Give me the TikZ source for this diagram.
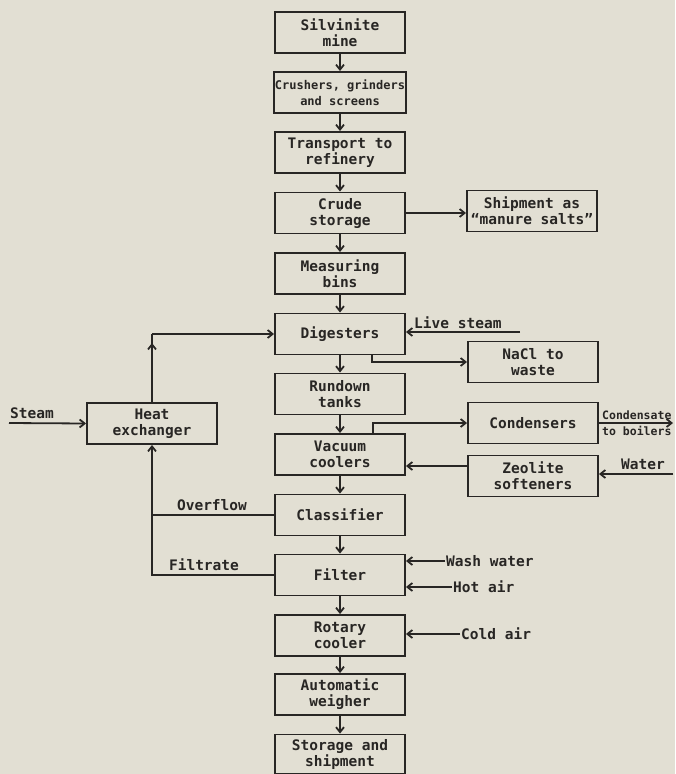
\documentclass[tikz,border=0pt]{standalone}
\usepackage{fontspec}
\setmainfont{DejaVu Sans Mono}
\usetikzlibrary{arrows.meta}
\definecolor{paper}{RGB}{226,223,211}
\definecolor{ink}{RGB}{40,38,36}

\begin{document}
\begin{tikzpicture}[x=1pt, y=-1pt,
   every node/.style={font=\fontsize{14.5}{16}\selectfont\bfseries, text=ink},
   unit/.style={draw=ink, line width=1.9pt, minimum width=130pt, minimum height=41pt, align=center, inner sep=1pt},
   flow/.style={draw=ink, line width=1.8pt, -{Straight Barb[length=5pt,width=8pt]}},
   line/.style={draw=ink, line width=1.8pt},
   tag/.style={inner sep=1pt},
   small/.style={font=\fontsize{11.5}{13}\selectfont\bfseries}]
\fill[paper] (0,0) rectangle (675,774);
\useasboundingbox (0,0) rectangle (675,774);

% main line
\node[unit] (mine)  at (340,32.5)  {Silvinite\\mine};
\node[unit, font=\fontsize{12}{16}\selectfont\bfseries] (crush) at (340,92.5) {Crushers, grinders\\and screens};
\node[unit] (trans) at (340,152.5) {Transport to\\refinery};
\node[unit] (crude) at (340,213)   {Crude\\storage};
\node[unit] (bins)  at (340,273.5) {Measuring\\bins};
\node[unit] (dig)   at (340,334)   {Digesters};
\node[unit] (run)   at (340,394)   {Rundown\\tanks};
\node[unit] (vac)   at (340,454.5) {Vacuum\\coolers};
\node[unit] (clas)  at (340,515)   {Classifier};
\node[unit] (filt)  at (340,575)   {Filter};
\node[unit] (rot)   at (340,635.5) {Rotary\\cooler};
\node[unit] (wei)   at (340,694.5) {Automatic\\weigher};
\node[unit, minimum height=39pt] (stor) at (340,754) {Storage and\\shipment};

% side units
\node[unit] (ship) at (532,211)   {Shipment as\\``manure salts''};
\node[unit] (nacl) at (533,362)   {NaCl to\\waste};
\node[unit] (cond) at (533,423)   {Condensers};
\node[unit] (zeo)  at (533,476)   {Zeolite\\softeners};
\node[unit] (he)   at (152,423.5) {Heat\\exchanger};

\foreach \a/\b in {mine/crush, crush/trans, trans/crude, crude/bins, bins/dig,
                   dig/run, run/vac, vac/clas, clas/filt, filt/rot, rot/wei, wei/stor}
   \draw[flow] (\a) -- (\b);

\draw[flow] (crude.east) -- (crude.east -| ship.west);

% steam and water feeds
\coordinate (ls) at (520,332);
\draw[flow] (ls) -- (ls -| dig.east);
\node[tag, anchor=south west] (lstxt) at (413,330) {Live steam};

\draw[flow] ([xshift=32pt]dig.south) |- (nacl.west);
\draw[flow] ([xshift=33pt]vac.north) |- (cond.west);

\coordinate (cb) at (673,423);
\draw[flow] (cond.east) -- (cb);
\node[tag, small, anchor=south west] (cbtop) at (601,421) {Condensate};
\node[tag, small, anchor=north west] (cbbot) at (601,425) {to boilers};

\coordinate (zo) at ([yshift=10pt]zeo.west);
\draw[flow] (zo) -- (zo -| vac.east);
\coordinate (wt) at (673,474);
\draw[flow] (wt) -- (wt -| zeo.east);
\node[tag, anchor=south] (wttxt) at (643,471) {Water};

\coordinate (st) at (9,423);
\draw[flow] (st) -- (he.west);
\node[tag, anchor=south west] (sttxt) at (9,420) {Steam};

% heat exchanger loop
\coordinate (hc) at (he.north |- dig.west);
\draw[line] (he.north) -- (hc);
\draw[flow] (he.north) -- ([yshift=-9pt]hc);
\draw[flow] (hc) -- (dig.west);

\draw[line] (clas.west) -- (clas.west -| he.south);
\node[tag, anchor=south] (oftxt) at (212,512) {Overflow};
\draw[flow] (filt.west) -| (he.south);
\node[tag, anchor=south] (fttxt) at (204,572) {Filtrate};

% filter and cooler feeds
\coordinate (ww) at (445,561);
\draw[flow] (ww) -- (ww -| filt.east);
\node[tag, anchor=west] (wwtxt) at (ww) {Wash water};
\coordinate (ha) at (452,587);
\draw[flow] (ha) -- (ha -| filt.east);
\node[tag, anchor=west] (hatxt) at (ha) {Hot air};
\coordinate (ca) at (460,634);
\draw[flow] (ca) -- (ca -| rot.east);
\node[tag, anchor=west] (catxt) at (ca) {Cold air};
\end{tikzpicture}
\end{document}
